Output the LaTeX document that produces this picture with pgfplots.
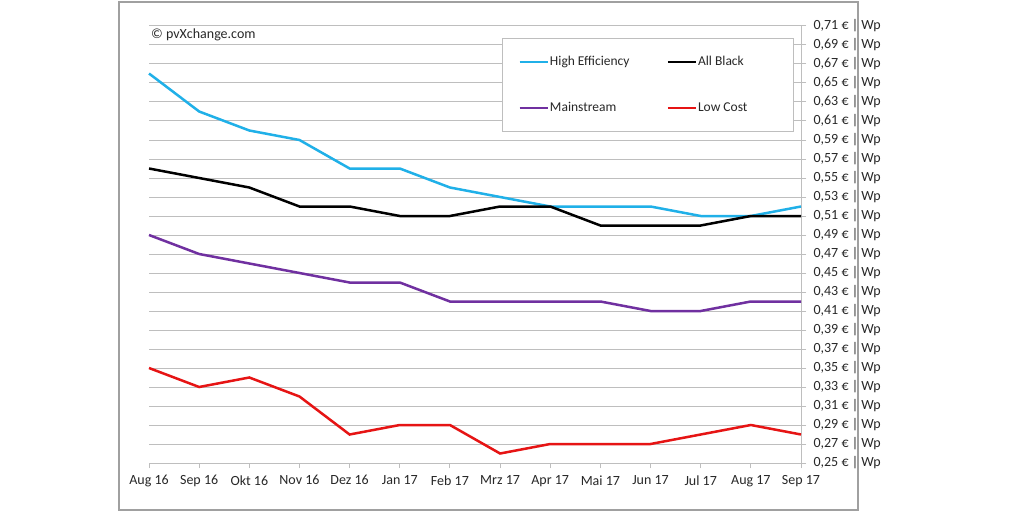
\documentclass[border=0pt]{standalone}
\usepackage{pgfplots}
\pgfplotsset{compat=1.18}
\usepackage{fontspec}
\setmainfont{Carlito}
\definecolor{hiblue}{RGB}{32,176,232}
\definecolor{mpurple}{RGB}{112,48,160}
\definecolor{lred}{RGB}{230,20,20}
\definecolor{gridgray}{RGB}{190,190,190}
\definecolor{boxgray}{RGB}{160,160,160}
\definecolor{txt}{RGB}{40,40,40}
\begin{document}
\begin{tikzpicture}[x=1pt,y=1pt,font=\fontsize{14}{16}\selectfont]
\fill[white] (0,0) rectangle (1024,512);
\useasboundingbox (0,0) rectangle (1024,512);
\draw[boxgray,line width=1.2pt] (119,2) rectangle (858,510);
\begin{axis}[
  at={(149pt,49pt)}, anchor=south west,
  scale only axis, width=652pt, height=437pt,
  xmin=0, xmax=13, ymin=0.25, ymax=0.71,
  axis x line*=bottom, axis y line*=right,
  axis line style={gridgray,line width=1pt},
  xtick={0,...,13},
  xticklabels={Aug 16,Sep 16,Okt 16,Nov 16,Dez 16,Jan 17,Feb 17,Mrz 17,Apr 17,Mai 17,Jun 17,Jul 17,Aug 17,Sep 17},
  ytick={0.25,0.27,0.29,0.31,0.33,0.35,0.37,0.39,0.41,0.43,0.45,0.47,0.49,0.51,0.53,0.55,0.57,0.59,0.61,0.63,0.65,0.67,0.69,0.71},
  yticklabel={\pgfmathprintnumber[fixed,fixed zerofill,precision=2,use comma,assume math mode=true]{\tick} € | Wp},
  tick align=outside, major tick length=5pt,
  tick style={gridgray,line width=1pt},
  ymajorgrids, major grid style={gridgray,line width=1pt},
  ticklabel style={txt,font=\fontsize{14}{16}\selectfont},
  yticklabel style={xshift=4pt},
  xticklabel style={yshift=-4pt},
  clip=false,
  legend columns=2,
  legend cell align=left,
  legend style={at={(0.5414,0.9725)}, anchor=north west, draw=gridgray, line width=1pt,
    inner xsep=16pt, inner ysep=17pt, row sep=33pt,
    nodes={inner sep=1pt, text=txt, font=\fontsize{13.5}{15}\selectfont},
    /tikz/every even column/.append style={column sep=36pt}},
  legend image code/.code={\draw[#1] (0pt,0pt) -- (28pt,0pt);},
  every axis plot/.append style={line width=2.5pt, no markers},
]
\addplot[hiblue] coordinates {(0,0.66)(1,0.62)(2,0.60)(3,0.59)(4,0.56)(5,0.56)(6,0.54)(7,0.53)(8,0.52)(9,0.52)(10,0.52)(11,0.51)(12,0.51)(13,0.52)};
\addlegendentry{High Efficiency}
\addplot[black] coordinates {(0,0.56)(1,0.55)(2,0.54)(3,0.52)(4,0.52)(5,0.51)(6,0.51)(7,0.52)(8,0.52)(9,0.50)(10,0.50)(11,0.50)(12,0.51)(13,0.51)};
\addlegendentry{\makebox[78pt][l]{All Black}}
\addplot[mpurple] coordinates {(0,0.49)(1,0.47)(2,0.46)(3,0.45)(4,0.44)(5,0.44)(6,0.42)(7,0.42)(8,0.42)(9,0.42)(10,0.41)(11,0.41)(12,0.42)(13,0.42)};
\addlegendentry{Mainstream}
\addplot[lred] coordinates {(0,0.35)(1,0.33)(2,0.34)(3,0.32)(4,0.28)(5,0.29)(6,0.29)(7,0.26)(8,0.27)(9,0.27)(10,0.27)(11,0.28)(12,0.29)(13,0.28)};
\addlegendentry{\makebox[78pt][l]{Low Cost}}
\end{axis}
\node[anchor=west,txt,inner sep=0pt] at (151,477) {© pvXchange.com};
\end{tikzpicture}
\end{document}
